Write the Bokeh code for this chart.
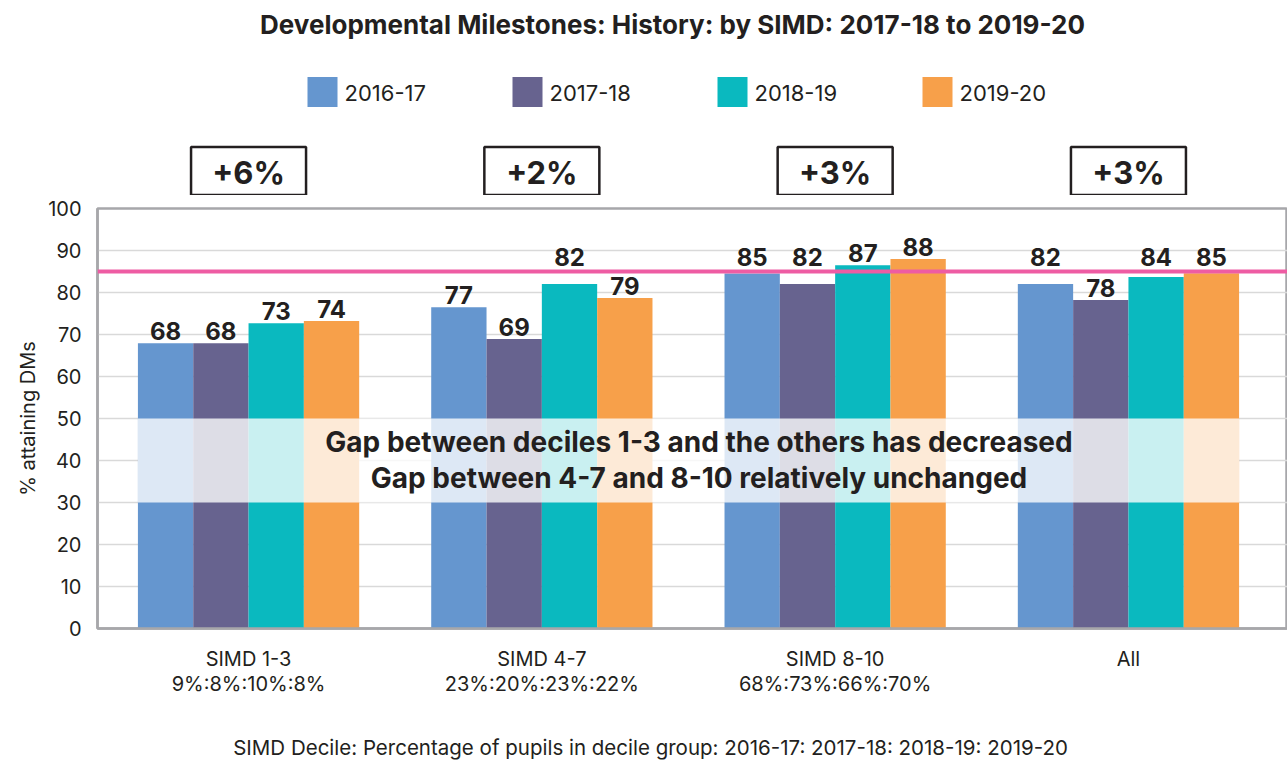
from bokeh.plotting import figure
from bokeh.layouts import column
from bokeh.models import Range1d, Label, Span, BoxAnnotation, FixedTicker, ColumnDataSource
from bokeh.transform import dodge
from bokeh.core.properties import value
from bokeh.embed import file_html
from bokeh.resources import INLINE

# ---------------- data ----------------
groups = ["SIMD 1-3", "SIMD 4-7", "SIMD 8-10", "All"]
group_shares = ["9%:8%:10%:8%", "23%:20%:23%:22%", "68%:73%:66%:70%", ""]
years = ["2016-17", "2017-18", "2018-19", "2019-20"]
v_2016_17 = [67.9, 76.5, 84.5, 82.0]
v_2017_18 = [67.9, 68.9, 82.0, 78.2]
v_2018_19 = [72.7, 82.0, 86.5, 83.7]
v_2019_20 = [73.2, 78.7, 88.0, 84.6]
lbl_2016_17 = ["68", "77", "85", "82"]
lbl_2017_18 = ["68", "69", "82", "78"]
lbl_2018_19 = ["73", "82", "87", "84"]
lbl_2019_20 = ["74", "79", "88", "85"]
changes = ["+6%", "+2%", "+3%", "+3%"]
target = 85
y_ticks = [0, 10, 20, 30, 40, 50, 60, 70, 80, 90, 100]

title_text = "Developmental Milestones: History: by SIMD: 2017-18 to 2019-20"
band_lines = ["Gap between deciles 1-3 and the others has decreased",
              "Gap between 4-7 and 8-10 relatively unchanged"]
x_title = "SIMD Decile: Percentage of pupils in decile group: 2016-17: 2017-18: 2018-19: 2019-20"
y_title = "% attaining DMs"

# ---------------- style ----------------
colors = ["#6596CF", "#67638F", "#0AB9BF", "#F7A04A"]
TXT = "#231F20"
GRAY = "#A7A7AA"
FONT = "Inter"
W = 1287
LEFT = 97
PX_UNIT = 293.3          # pixels per group
X_START = -0.515
X_END = X_START + (W - LEFT) / PX_UNIT


def px_to_x(px):
    return X_START + (px - LEFT) / PX_UNIT


series = [v_2016_17, v_2017_18, v_2018_19, v_2019_20]
labels = [lbl_2016_17, lbl_2017_18, lbl_2018_19, lbl_2019_20]

BAR_W = 0.1886
offsets = [-1.5 * BAR_W, -0.5 * BAR_W, 0.5 * BAR_W, 1.5 * BAR_W]


def label_pos(v):
    # labels of bars just below the target line are lifted above it
    if target - 6 < v < target + 1:
        return target + 1.3
    return v + 0.8


data = {"x": list(range(len(groups)))}
for i, (s, l) in enumerate(zip(series, labels)):
    data[f"v{i}"] = s
    data[f"l{i}"] = l
    data[f"ly{i}"] = [label_pos(v) for v in s]
src = ColumnDataSource(data)

xr = Range1d(X_START, X_END)

# ---------------- top panel: title, legend, change boxes ----------------
TOP_H = 195
pt = figure(width=W, height=TOP_H, output_backend="svg", toolbar_location=None,
            x_range=xr, y_range=Range1d(TOP_H, 0),
            x_axis_location=None, y_axis_location=None,
            min_border_left=LEFT, min_border_right=0, min_border_top=0,
            min_border_bottom=0, outline_line_color=None)
pt.grid.visible = False

pt.text(x=[px_to_x(672)], y=[24], text=[title_text], text_align="center",
        text_baseline="middle", text_font=value(FONT), text_font_style="bold",
        text_font_size="26px", text_color=TXT)

leg_x = [px_to_x(322 + k * 205) for k in range(len(years))]
pt.rect(x=leg_x, y=[91.5] * 4, width=30, height=30, width_units="screen",
        height_units="screen", fill_color=colors, line_color=None)
pt.text(x=[px_to_x(344 + k * 205) for k in range(len(years))], y=[92] * 4,
        text=years, text_align="left", text_baseline="middle",
        text_font=value(FONT), text_font_size="22px", text_color=TXT)

pt.rect(x=list(range(len(changes))), y=[170.5] * 4, width=115, height=48,
        width_units="screen", height_units="screen", fill_color="white",
        line_color=TXT, line_width=2.5)
pt.text(x=list(range(len(changes))), y=[172] * 4, text=changes,
        text_align="center", text_baseline="middle", text_font=value(FONT),
        text_font_style="bold", text_font_size="31px", text_color=TXT)

# ---------------- main chart ----------------
MAIN_H = 525
p = figure(width=W, height=MAIN_H, output_backend="svg", toolbar_location=None,
           x_range=xr, y_range=Range1d(0, 100),
           min_border_left=LEFT, min_border_right=0, min_border_top=13,
           min_border_bottom=92, background_fill_color="white",
           border_fill_color="white")

p.outline_line_color = GRAY
p.outline_line_width = 2.5

for i in range(4):
    p.vbar(x=dodge("x", offsets[i]), top=f"v{i}", width=BAR_W, bottom=0,
           source=src, fill_color=colors[i], line_color=None)
    p.text(x=dodge("x", offsets[i]), y=f"ly{i}", text=f"l{i}", source=src,
           text_align="center", text_baseline="bottom", text_color=TXT,
           text_font=value(FONT), text_font_style="bold", text_font_size="24px")

p.xaxis.ticker = FixedTicker(ticks=list(range(len(groups))))
p.xaxis.major_label_overrides = {
    i: (f"{g}\n{s}" if s else g) for i, (g, s) in enumerate(zip(groups, group_shares))
}
p.xaxis.major_tick_line_color = None
p.xaxis.minor_tick_line_color = None
p.xaxis.axis_line_color = GRAY
p.xaxis.axis_line_width = 2.5
p.xaxis.major_label_standoff = 12
p.xaxis.major_label_text_font = FONT
p.xaxis.major_label_text_font_size = "20px"
p.xaxis.major_label_text_color = TXT
p.xaxis.major_label_text_line_height = 1.05
p.xgrid.grid_line_color = None

p.yaxis.ticker = FixedTicker(ticks=y_ticks)
p.yaxis.major_tick_line_color = None
p.yaxis.minor_tick_line_color = None
p.yaxis.axis_line_color = GRAY
p.yaxis.axis_line_width = 2.5
p.yaxis.major_label_standoff = 10
p.yaxis.major_label_text_font = FONT
p.yaxis.major_label_text_font_size = "20px"
p.yaxis.major_label_text_color = TXT
p.yaxis.axis_label = y_title
p.yaxis.axis_label_text_font = FONT
p.yaxis.axis_label_text_font_style = "normal"
p.yaxis.axis_label_text_font_size = "20px"
p.yaxis.axis_label_text_color = TXT
p.yaxis.axis_label_standoff = 5
p.ygrid.grid_line_color = "#D9D9D9"
p.ygrid.grid_line_width = 1.5

p.add_layout(Span(location=target, dimension="width", line_color="#EE5CA3",
                  line_width=4))

p.add_layout(BoxAnnotation(bottom=30, top=50, left=offsets[0] - BAR_W / 2,
                           right=3 + offsets[3] + BAR_W / 2,
                           fill_color="white", fill_alpha=0.78, line_color=None))
for txt, yy in zip(band_lines, [44.3, 35.9]):
    p.add_layout(Label(x=px_to_x(698.5), y=yy, text=txt, text_align="center",
                       text_baseline="middle", text_font=FONT,
                       text_font_style="bold", text_font_size="28px",
                       text_color=TXT))

# ---------------- bottom panel: x-axis title ----------------
BOT_H = 762 - TOP_H - MAIN_H
pb = figure(width=W, height=BOT_H, output_backend="svg", toolbar_location=None,
            x_range=xr, y_range=Range1d(BOT_H, 0),
            x_axis_location=None, y_axis_location=None,
            min_border_left=LEFT, min_border_right=0, min_border_top=0,
            min_border_bottom=0, outline_line_color=None)
pb.grid.visible = False
pb.text(x=[px_to_x(650)], y=[27], text=[x_title], text_align="center",
        text_baseline="middle", text_font=value(FONT), text_font_size="20.5px",
        text_color=TXT)

layout = column(pt, p, pb, spacing=0)
open("out.html", "w").write(file_html(layout, INLINE))
